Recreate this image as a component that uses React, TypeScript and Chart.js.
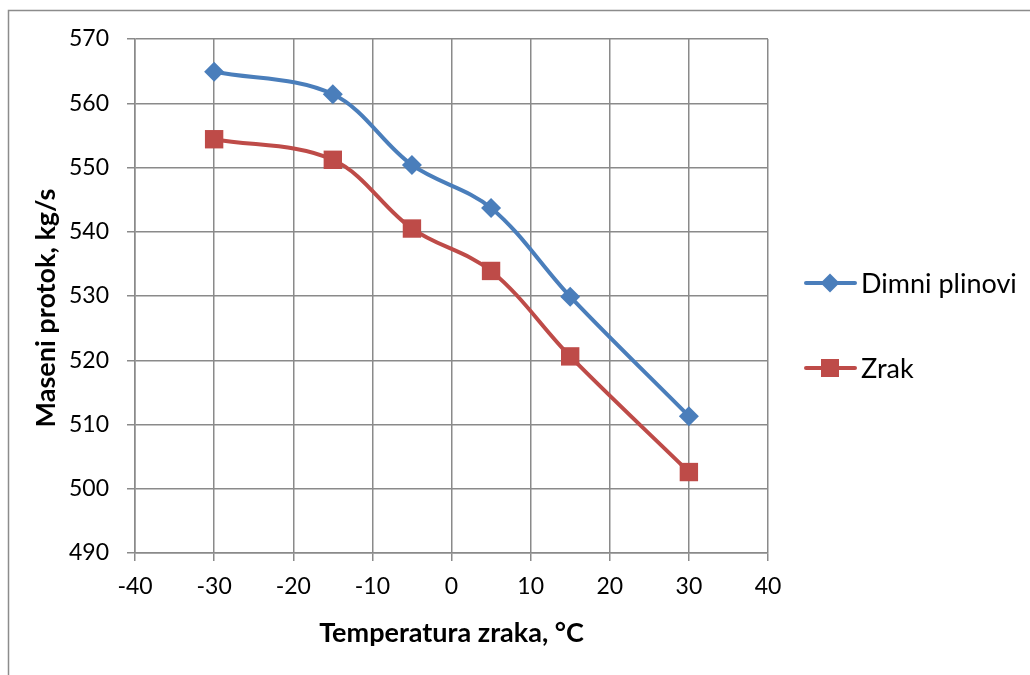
import React, { useEffect, useRef } from "react";
import { Chart, registerables } from "chart.js";

Chart.register(...registerables);

const temperatures = [-30, -15, -5, 5, 15, 30];
const dimniPlinovi = [564.9, 561.4, 550.4, 543.7, 529.9, 511.3];
const zrak = [554.4, 551.2, 540.5, 533.9, 520.6, 502.6];
const seriesNames = ["Dimni plinovi", "Zrak"];
const seriesColors = ["#4a7ebb", "#be4b48"];
const xTitle = "Temperatura zraka, °C";
const yTitle = "Maseni protok, kg/s";
const xRange = [-40, 40];
const yRange = [490, 570];

const FONT = "Lato, 'Open Sans', sans-serif";
const GRID = "#8a8a8a";

const framePlugin = {
  id: "frame",
  beforeDraw(chart: any) {
    const ctx = chart.ctx;
    ctx.save();
    ctx.strokeStyle = "#8c8c8c";
    ctx.lineWidth = 1.5;
    ctx.beginPath();
    ctx.moveTo(8.5, 680);
    ctx.lineTo(8.5, 10.5);
    ctx.lineTo(1040, 10.5);
    ctx.stroke();
    ctx.restore();
  },
};

const yTitlePlugin = {
  id: "yTitle",
  afterDraw(chart: any) {
    const ctx = chart.ctx;
    ctx.save();
    ctx.translate(55, 308);
    ctx.rotate(-Math.PI / 2);
    ctx.fillStyle = "#000";
    ctx.font = `bold 27px ${FONT}`;
    ctx.textAlign = "center";
    ctx.textBaseline = "alphabetic";
    ctx.fillText(yTitle, 0, 0);
    ctx.restore();
  },
};

const legendPlugin = {
  id: "customLegend",
  afterDraw(chart: any) {
    const ctx = chart.ctx;
    const rows = [283, 368];
    ctx.save();
    chart.data.datasets.forEach((ds: any, i: number) => {
      const y = rows[i];
      const color = ds.borderColor;
      ctx.strokeStyle = color;
      ctx.lineWidth = 4;
      ctx.lineCap = "round";
      ctx.beginPath();
      ctx.moveTo(806, y);
      ctx.lineTo(855, y);
      ctx.stroke();
      ctx.fillStyle = color;
      const cx = 830;
      if (i === 0) {
        ctx.beginPath();
        ctx.moveTo(cx, y - 9.5);
        ctx.lineTo(cx + 9.5, y);
        ctx.lineTo(cx, y + 9.5);
        ctx.lineTo(cx - 9.5, y);
        ctx.closePath();
        ctx.fill();
      } else {
        ctx.fillRect(cx - 9, y - 9, 18, 18);
      }
      ctx.fillStyle = "#000";
      ctx.font = `27px ${FONT}`;
      ctx.textAlign = "left";
      ctx.textBaseline = "middle";
      ctx.fillText(ds.label, 861, y + 1);
    });
    ctx.restore();
  },
};

export default function App() {
  const ref = useRef<HTMLCanvasElement | null>(null);
  useEffect(() => {
    if (!ref.current) return;
    const mk = (xs: number[], ys: number[]) => xs.map((x, i) => ({ x, y: ys[i] }));
    const chart = new Chart(ref.current, {
      type: "line",
      data: {
        datasets: [
          {
            label: seriesNames[0],
            data: mk(temperatures, dimniPlinovi),
            borderColor: seriesColors[0],
            backgroundColor: seriesColors[0],
            borderWidth: 4,
            pointStyle: "rectRot",
            pointRadius: 10,
            pointBorderWidth: 0,
            tension: 0.35,
          },
          {
            label: seriesNames[1],
            data: mk(temperatures, zrak),
            borderColor: seriesColors[1],
            backgroundColor: seriesColors[1],
            borderWidth: 4,
            pointStyle: "rect",
            pointRadius: 13,
            pointBorderWidth: 0,
            tension: 0.35,
          },
        ],
      },
      options: {
        animation: false,
        responsive: false,
        layout: { padding: { top: 39, right: 262, left: 0, bottom: 0 } },
        plugins: { legend: { display: false }, tooltip: { enabled: false } },
        scales: {
          x: {
            type: "linear",
            min: xRange[0],
            max: xRange[1],
            ticks: { stepSize: 10, color: "#000", font: { family: FONT, size: 23 }, padding: 12 },
            grid: { color: GRID, lineWidth: 1.5, tickLength: 8, tickColor: GRID },
            border: { color: GRID, width: 1.5 },
            title: {
              display: true,
              text: xTitle,
              color: "#000",
              font: { family: FONT, size: 27, weight: "bold" },
              padding: { top: 0, bottom: 26 },
            },
            afterFit(scale: any) {
              scale.height = 122;
            },
          },
          y: {
            min: yRange[0],
            max: yRange[1],
            ticks: { stepSize: 10, color: "#000", font: { family: FONT, size: 23 }, padding: 18 },
            grid: { color: GRID, lineWidth: 1.5, tickLength: 8, tickColor: GRID },
            border: { color: GRID, width: 1.5 },
            title: { display: false, text: yTitle },
            afterFit(scale: any) {
              scale.width = 135;
            },
          },
        },
      },
      plugins: [framePlugin, yTitlePlugin, legendPlugin],
    } as any);
    return () => chart.destroy();
  }, []);
  return (
    <div style={{ position: "absolute", left: 0, top: 0, width: 1030, height: 675, background: "#fff" }}>
      <canvas ref={ref} width={1030} height={675} style={{ display: "block" }} />
    </div>
  );
}
